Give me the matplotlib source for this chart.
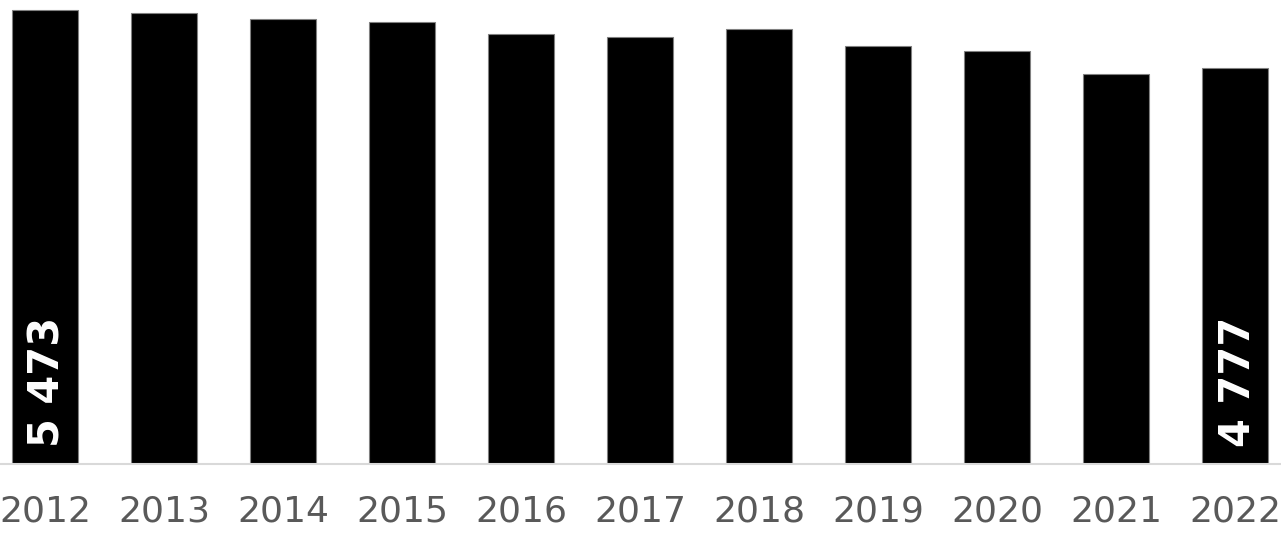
import matplotlib
matplotlib.use("Agg")
import matplotlib.pyplot as plt

years = ["2012", "2013", "2014", "2015", "2016", "2017",
         "2018", "2019", "2020", "2021", "2022"]
values = [5473, 5444, 5368, 5328, 5187, 5151, 5244, 5043, 4986, 4701, 4777]
labels = ["5 473", "", "", "", "", "", "", "", "", "", "4 777"]

fig = plt.figure(figsize=(12.81, 5.35), dpi=100)
ax = fig.add_axes([0, 0.132, 1, 0.868])

x = range(len(years))
ax.bar(x, values, width=0.555, color="black", edgecolor="#808080", linewidth=0.8)

for i, lab in enumerate(labels):
    if lab:
        ax.annotate(lab, (i, 0), xytext=(3, 17), textcoords="offset pixels",
                    rotation=90, ha="center", va="bottom", color="white",
                    fontsize=30, fontweight="bold", family="DejaVu Sans")

ax.set_xlim(-0.378, 10.387)
ax.set_ylim(0, 5597)
ax.set_xticks(list(x))
ax.set_xticklabels(years, fontsize=26, color="#595959")
ax.tick_params(axis="x", length=0, pad=22)
ax.set_yticks([])

for side in ["top", "right", "left"]:
    ax.spines[side].set_visible(False)
ax.spines["bottom"].set_color("#d9d9d9")
ax.spines["bottom"].set_linewidth(1.5)

plt.savefig("out.png", dpi=100)
